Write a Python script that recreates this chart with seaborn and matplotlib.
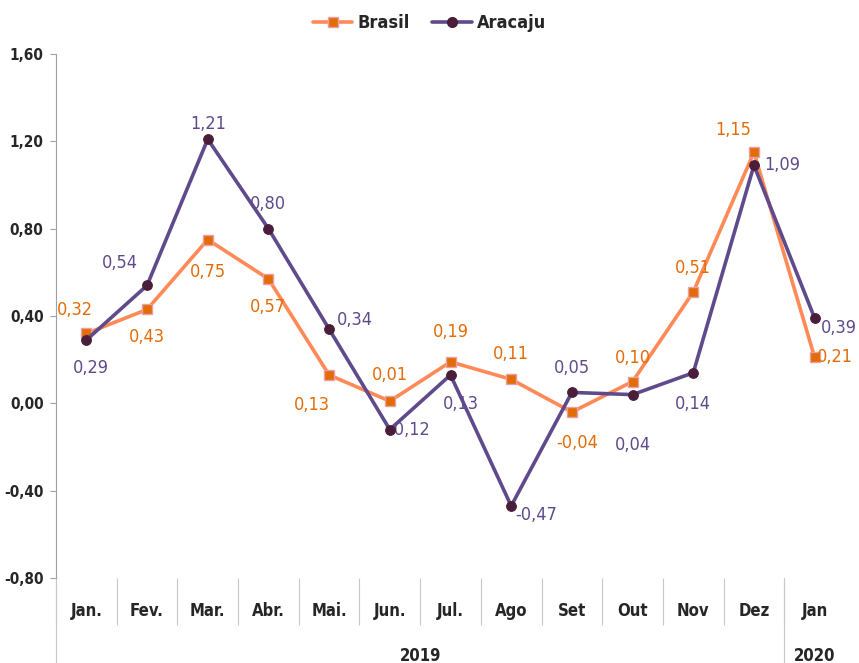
import numpy as np
import pandas as pd
import seaborn as sns
import matplotlib.pyplot as plt
from matplotlib.lines import Line2D

months = ["Jan.", "Fev.", "Mar.", "Abr.", "Mai.", "Jun.", "Jul.", "Ago",
          "Set", "Out", "Nov", "Dez", "Jan"]
years = ["2019", "2020"]
brasil = [0.32, 0.43, 0.75, 0.57, 0.13, 0.01, 0.19, 0.11, -0.04, 0.10, 0.51, 1.15, 0.21]
aracaju = [0.29, 0.54, 1.21, 0.80, 0.34, -0.12, 0.13, -0.47, 0.05, 0.04, 0.14, 1.09, 0.39]
y_ticks = [-0.80, -0.40, 0.00, 0.40, 0.80, 1.20, 1.60]

# label offsets in pixels (dx, dy) for each point
brasil_off = [(-11, 23), (0, -28), (0, -32), (0, -28), (-17, -30), (0, 26),
              (0, 30), (0, 25), (5, -31), (0, 24), (0, 24), (-21, 22), (20, 0)]
aracaju_off = [(5, -28), (-27, 22), (0, 15), (0, 25), (26, 9), (19, 0),
               (10, -29), (25, -9), (0, 24), (0, -50), (0, -31), (28, 0), (24, -10)]

ORANGE_LINE = "#FF8A57"
ORANGE = "#E36C09"
PURPLE = "#5F4A8B"
PURPLE_DARK = "#4A1E3A"

sns.set_style("white")
plt.rcParams['font.family'] = ['DejaVu Sans']
plt.rcParams['font.stretch'] = 'condensed'

df = pd.DataFrame({"idx": np.arange(len(months)), "Brasil": brasil, "Aracaju": aracaju})

fig = plt.figure(figsize=(8.59, 6.63), dpi=100)
ax = fig.add_axes([0.0652, 0.1282, 0.9185, 0.7903])

sns.lineplot(data=df, x="idx", y="Brasil", ax=ax, color=ORANGE_LINE, linewidth=2.6,
             marker="s", markersize=7, markerfacecolor=ORANGE,
             markeredgecolor="#E8A0A0", markeredgewidth=1, zorder=3)
sns.lineplot(data=df, x="idx", y="Aracaju", ax=ax, color=PURPLE, linewidth=2.6,
             marker="o", markersize=7, markerfacecolor=PURPLE_DARK,
             markeredgecolor=PURPLE_DARK, zorder=4)

fmt = lambda v: f"{v:.2f}".replace(".", ",")
for i, v in enumerate(brasil):
    ax.annotate(fmt(v), (i, v), xytext=brasil_off[i], textcoords="offset pixels",
                ha="center", va="center", fontsize=13, color=ORANGE)
for i, v in enumerate(aracaju):
    ax.annotate(fmt(v), (i, v), xytext=aracaju_off[i], textcoords="offset pixels",
                ha="center", va="center", fontsize=13, color=PURPLE)

ax.set_xlim(-0.5, len(months) - 0.5)
ax.set_ylim(-0.80, 1.60)
ax.set_yticks(y_ticks)
ax.set_yticklabels([fmt(v) for v in y_ticks], fontsize=11, fontweight="bold")
ax.tick_params(axis="y", length=4, color="#A0A0A0", pad=5, left=True)
ax.set_xticks(range(len(months)))
ax.set_xticklabels(months, fontsize=12, fontweight="bold")
ax.tick_params(axis="x", which="major", length=0, pad=17)
ax.set_xticks(np.arange(-0.5, len(months) - 1), minor=True)
ax.tick_params(axis="x", which="minor", bottom=True, length=34, color="#C8C8C8", width=0.8)
ax.set_xlabel("")
ax.set_ylabel("")

for s in ["top", "right", "bottom"]:
    ax.spines[s].set_visible(False)
ax.spines["left"].set_color("#A0A0A0")

# long separators for the year groups
for xb in [-0.5, len(months) - 1.5]:
    ax.axvline(xb, ymin=-0.17, ymax=0, color="#C8C8C8", linewidth=0.8, clip_on=False)

trans = ax.get_xaxis_transform()
ax.text((len(months) - 2) / 2, -0.148, years[0], transform=trans, ha="center", va="center",
        fontsize=12, fontweight="bold")
ax.text(len(months) - 1, -0.148, years[1], transform=trans, ha="center", va="center",
        fontsize=12, fontweight="bold")

handles = [Line2D([], [], color=ORANGE_LINE, linewidth=2.6, marker="s", markersize=7,
                  markerfacecolor=ORANGE, markeredgecolor="#E8A0A0"),
           Line2D([], [], color=PURPLE, linewidth=2.6, marker="o", markersize=7,
                  markerfacecolor=PURPLE_DARK, markeredgecolor=PURPLE_DARK)]
fig.legend(handles, ["Brasil", "Aracaju"], loc="center", bbox_to_anchor=(0.5, 0.965),
           ncol=2, frameon=False, prop={"size": 13, "weight": "bold"},
           handlelength=2.2, columnspacing=1.2, handletextpad=0.3)

fig.savefig("out.png", dpi=100)
